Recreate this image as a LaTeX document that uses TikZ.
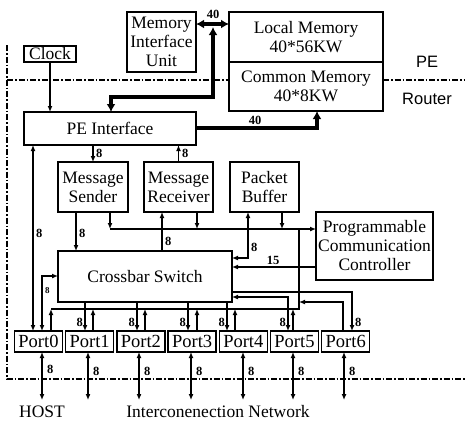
\documentclass[tikz,border=0pt]{standalone}
\usepackage{fontspec}
\setmainfont{Liberation Serif}
\newfontfamily\sidefont{Liberation Sans}
\usetikzlibrary{
    positioning,
    arrows.meta
}

\begin{document}
\begin{tikzpicture}[
    x=1pt, y=-1pt,
    unit/.style={rectangle, draw, line width=1.4pt, outer sep=0pt, inner sep=0pt, align=center, font=\fontsize{17.5}{19}\selectfont},
    port/.style={unit, minimum width=48, minimum height=21, font=\fontsize{18.5}{19}\selectfont},
    wire/.style={line width=1.4pt},
    arrow/.style={wire, -{Latex[length=6pt, width=5pt]}},
    biarrow/.style={wire, {Latex[length=6pt, width=5pt]}-{Latex[length=6pt, width=5pt]}},
    heavy/.style={line width=3.6pt, -{Latex[length=8pt, width=9pt]}},
    heavybi/.style={line width=3.6pt, {Latex[length=8pt, width=9pt]}-{Latex[length=8pt, width=9pt]}},
    bits/.style={font=\bfseries\fontsize{12.5}{12.5}\selectfont, inner sep=1pt},
    border/.style={line width=1.3pt, dash pattern=on 6pt off 2pt on 1.5pt off 2pt},
    side/.style={font=\sidefont\fontsize{16.5}{16.5}\selectfont},
    caption/.style={font=\fontsize{17.5}{17.5}\selectfont}
]
\useasboundingbox (0,0) rectangle (465,421);

\node[unit, minimum width=69, minimum height=60] (miu) at (161.5,42) {Memory\\Interface\\Unit};
\node[unit, minimum width=154, minimum height=50] (lmem) at (306,37) {Local Memory\\40*56KW};
\node[unit, minimum width=154, minimum height=49] (cmem) at (306,86.5) {Common Memory\\40*8KW};
\node[unit, minimum width=52, minimum height=16] (clock) at (50,54) {Clock};
\node[unit, minimum width=172, minimum height=33] (pei) at (110,128.5) {PE Interface};
\node[unit, minimum width=70, minimum height=50] (snd) at (93,187) {Message\\Sender};
\node[unit, minimum width=69, minimum height=50] (rcv) at (178.5,187) {Message\\Receiver};
\node[unit, minimum width=69, minimum height=50] (pbuf) at (264.5,187) {Packet\\Buffer};
\node[unit, minimum width=117, minimum height=68] (pcc) at (374.5,246) {Programmable\\Communication\\Controller};
\node[unit, minimum width=174, minimum height=51] (xbar) at (145,276.5) {Crossbar Switch};
\node[port] (p0) at (38.5,341.5) {Port0};
\node[port, right=3.2 of p0] (p1) {Port1};
\node[port, right=3.2 of p1] (p2) {Port2};
\node[port, right=3.2 of p2] (p3) {Port3};
\node[port, right=3.2 of p3] (p4) {Port4};
\node[port, right=3.2 of p4] (p5) {Port5};
\node[port, right=3.2 of p5] (p6) {Port6};

\node[side] (pe) at (427,62) {PE};
\node[side] (router) at (427,99) {Router};
\node[caption] (host) at (42,412) {HOST};
\node[caption] (net) at (218,412) {Interconenection Network};

\draw[border] (7,45) -- (7,379) -- (465,379);
\draw[border] (7,80) -- (cmem.west |- 0,80);
\draw[border] (cmem.east |- 0,80) -- (465,80);

\coordinate (j40) at (213,27);
\draw[heavybi] (miu.east |- 0,24) -- (lmem.west |- 0,24);
\draw[heavybi] (j40) -- (213,97) -- (111,97) -- (pei.north -| 111,0);
\draw[heavy] (pei.east |- 0,128) -- (317,128) -- (cmem.south -| 317,0);
\node[bits] (w40a) at (213,14) {40};
\node[bits] (w40b) at (255,120) {40};

\draw[arrow] (clock.south) -- (pei.north -| clock.south);
\draw[arrow] (pei.south -| snd.north) -- (snd.north);
\draw[arrow] (rcv.north) -- (pei.south -| rcv.north);
\node[bits, anchor=west] (w8a) at (95,153) {8};
\node[bits, anchor=west] (w8b) at (181,153) {8};

\draw[biarrow] (pei.south -| 33,0) -- (p0.north -| 33,0);
\node[bits, anchor=west] (w8c) at (35,233) {8};
\draw[biarrow] (xbar.west |- 0,276) -- (42,276) -- (p0.north -| 42,0);
\node[bits, anchor=west, font=\bfseries\fontsize{9}{9}\selectfont] (w8d) at (44,291) {8};

\draw[arrow] (snd.south -| 76,0) -- (xbar.north -| 76,0);
\node[bits, anchor=west] (w8e) at (78,233) {8};
\draw[arrow] (xbar.north -| 162,0) -- (rcv.south -| 162,0);
\node[bits, anchor=west] (w8f) at (164,241) {8};

\draw[arrow] (snd.south -| 110,0) -- (110,229);
\draw[arrow] (rcv.south -| 197,0) -- (197,229);
\draw[arrow] (pbuf.south -| 282,0) -- (282,229);
\draw[arrow] (110,229) -- (pcc.west |- 0,229);
\draw[biarrow] (pbuf.south -| 248,0) -- (248,258) -- (xbar.east |- 0,258);
\node[bits, anchor=west] (w8g) at (250,247) {8};
\draw[arrow] (pcc.west |- 0,267) -- (xbar.east |- 0,267);
\node[bits] (w15) at (273,260) {15};

\draw[wire] (51,309) -- (299,309) -- (299,229);
\draw[arrow] (p0.north -| 51,0) -- (51,309);
\draw[arrow] (xbar.south -| 85,0) -- (p1.north -| 85,0);
\draw[arrow] (p1.north -| 93,0) -- (93,309);
\draw[arrow] (xbar.south -| 137,0) -- (p2.north -| 137,0);
\draw[arrow] (p2.north -| 145,0) -- (145,309);
\draw[arrow] (xbar.south -| 188,0) -- (p3.north -| 188,0);
\draw[arrow] (p3.north -| 197,0) -- (197,309);
\draw[arrow] (xbar.south -| 227,0) -- (p4.north -| 227,0);
\draw[arrow] (p4.north -| 235,0) -- (235,309);
\draw[biarrow] (xbar.east |- 0,297) -- (288,297) -- (p5.north -| 288,0);
\draw[arrow] (p5.north -| 293,0) -- (293,309);
\draw[arrow] (xbar.east |- 0,292) -- (352,292) -- (p6.north -| 352,0);
\draw[arrow] (p6.north -| 343,0) -- (343,302) -- (299,302);
\node[bits, anchor=east] (w8h) at (84,322) {8};
\node[bits, anchor=east] (w8i) at (136,322) {8};
\node[bits, anchor=east] (w8j) at (187,322) {8};
\node[bits, anchor=east] (w8k) at (226,322) {8};
\node[bits, anchor=east] (w8l) at (287,322) {8};
\node[bits, anchor=west] (w8m) at (354,322) {8};

\coordinate (e0) at (42,400);
\coordinate (e1) at (88,400);
\coordinate (e2) at (139,400);
\coordinate (e3) at (191,400);
\coordinate (e4) at (243,400);
\coordinate (e5) at (293,400);
\coordinate (e6) at (344,400);
\draw[biarrow] (p0.south -| e0) -- (e0);
\draw[biarrow] (p1.south -| e1) -- (e1);
\draw[biarrow] (p2.south -| e2) -- (e2);
\draw[biarrow] (p3.south -| e3) -- (e3);
\draw[biarrow] (p4.south -| e4) -- (e4);
\draw[biarrow] (p5.south -| e5) -- (e5);
\draw[biarrow] (p6.south -| e6) -- (e6);
\node[bits, anchor=west] (w8n) at (46,369) {8};
\node[bits, anchor=west] (w8o) at (92,371) {8};
\node[bits, anchor=west] (w8p) at (143,371) {8};
\node[bits, anchor=west] (w8q) at (195,371) {8};
\node[bits, anchor=west] (w8r) at (247,371) {8};
\node[bits, anchor=west] (w8s) at (297,371) {8};
\node[bits, anchor=west] (w8t) at (348,371) {8};
\end{tikzpicture}
\end{document}
